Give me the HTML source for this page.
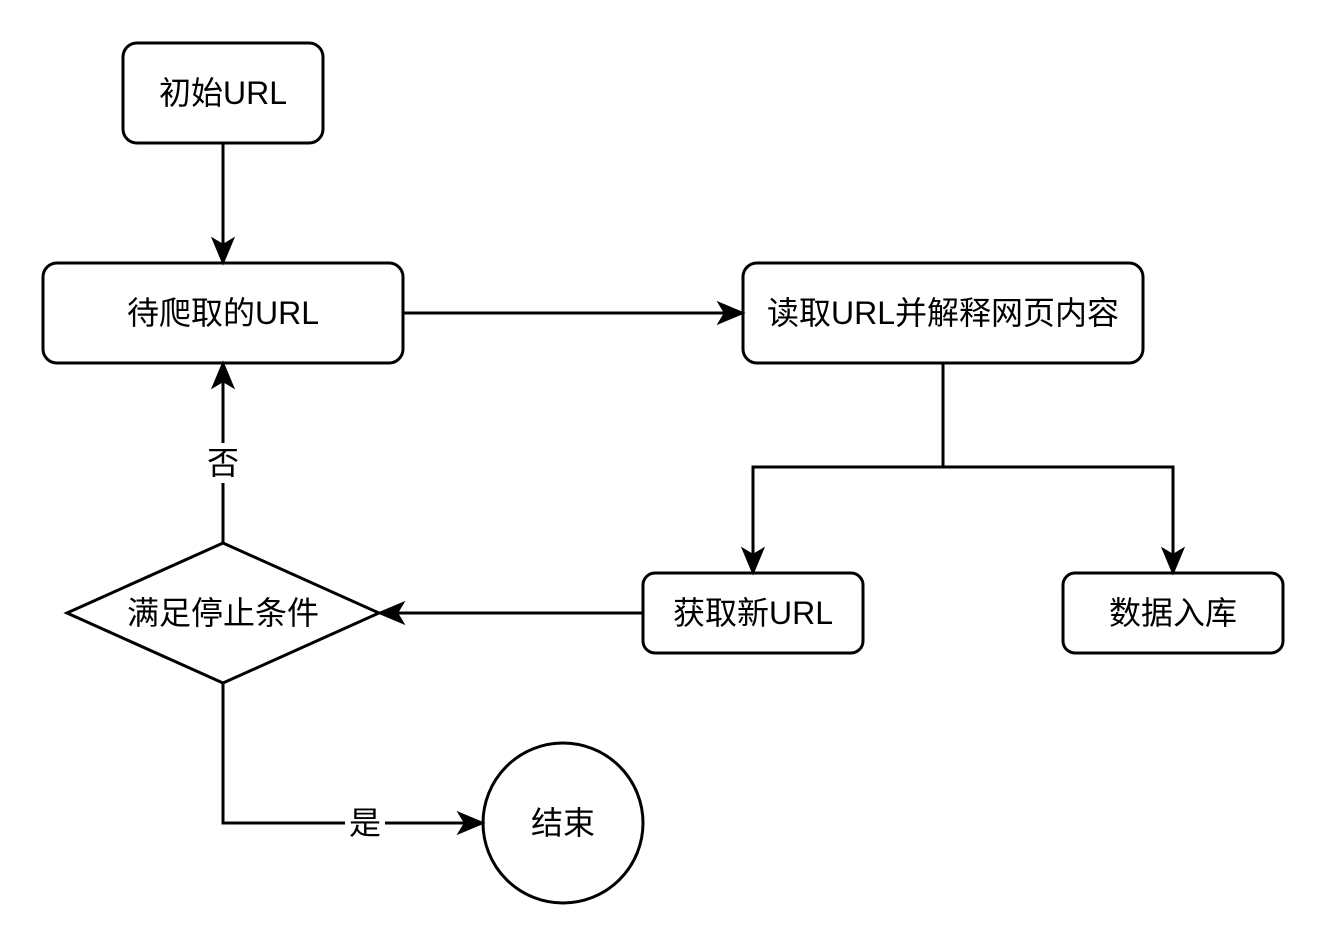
<!DOCTYPE html>
<html><head><meta charset="utf-8"><style>
html,body{margin:0;padding:0;background:#fff;}
text{font-family:"Liberation Sans","Noto Sans CJK SC",sans-serif;font-size:32px;fill:#000;}
</style></head><body>
<svg width="1324" height="944" viewBox="0 0 1324 944" xmlns="http://www.w3.org/2000/svg">
<defs>
<marker id="a" markerWidth="12" markerHeight="12" refX="10" refY="6" orient="auto" markerUnits="userSpaceOnUse" viewBox="0 0 12 12">
</marker>
</defs>
<g fill="none" stroke="#000" stroke-width="3">
<rect x="123" y="43" width="200" height="100" rx="14"/>
<rect x="43" y="263" width="360" height="100" rx="14"/>
<rect x="743" y="263" width="400" height="100" rx="14"/>
<rect x="643" y="573" width="220" height="80" rx="12"/>
<rect x="1063" y="573" width="220" height="80" rx="12"/>
<polygon points="67,613 223,543 379,613 223,683"/>
<circle cx="563" cy="823" r="80"/>
<path d="M223 143V245"/>
<path d="M403 313H725"/>
<path d="M943 363V467H753V555"/>
<path d="M943 467H1173V555"/>
<path d="M643 613H397"/>
<path d="M223 543V381"/>
<path d="M223 683V823H465"/>
</g>
<g fill="#000" stroke="#000" stroke-width="2" stroke-linejoin="miter">
<path d="M223 263L213 239L223 245L233 239Z"/>
<path d="M743 313L719 303L725 313L719 323Z"/>
<path d="M753 573L743 549L753 555L763 549Z"/>
<path d="M1173 573L1163 549L1173 555L1183 549Z"/>
<path d="M379 613L403 603L397 613L403 623Z"/>
<path d="M223 363L213 387L223 381L233 387Z"/>
<path d="M483 823L459 813L465 823L459 833Z"/>
</g>
<rect x="203" y="443" width="40" height="40" fill="#fff"/>
<rect x="345" y="803" width="40" height="40" fill="#fff"/>
<g text-anchor="middle" dominant-baseline="central">
<text x="223" y="93">初始URL</text>
<text x="223" y="313">待爬取的URL</text>
<text x="943" y="313">读取URL并解释网页内容</text>
<text x="753" y="613">获取新URL</text>
<text x="1173" y="613">数据入库</text>
<text x="223" y="613">满足停止条件</text>
<text x="563" y="823">结束</text>
<text x="223" y="463">否</text>
<text x="365" y="823">是</text>
</g>
</svg>
</body></html>
